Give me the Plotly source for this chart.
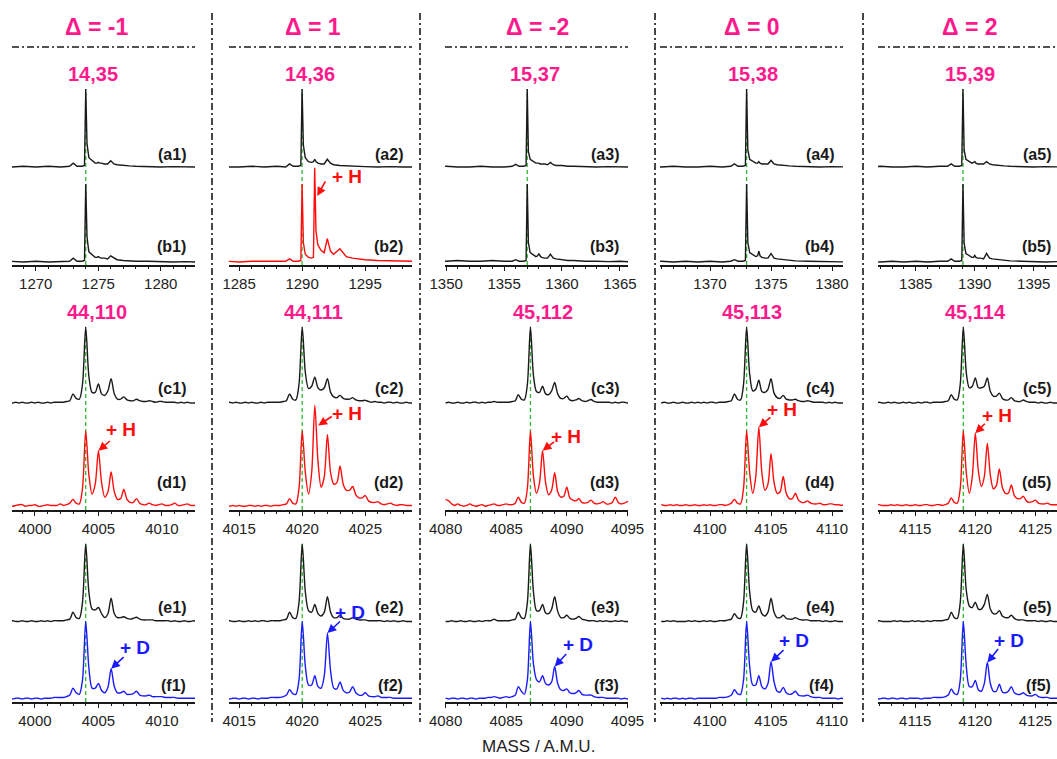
import plotly.graph_objects as go

W, H = 1057, 759
FONT = "Liberation Sans, Arial, sans-serif"

# ---------------- text ----------------
HEADERS = ["Δ = -1", "Δ = 1", "Δ = -2", "Δ = 0", "Δ = 2"]
TITLES_LOW = ["14,35", "14,36", "15,37", "15,38", "15,39"]
TITLES_HIGH = ["44,110", "44,111", "45,112", "45,113", "45,114"]
XLABEL = "MASS / A.M.U."

# ---------------- data ----------------
LOW_PEAK = [1274, 1290, 1357, 1373, 1389]
HIGH_PEAK = [4004, 4020, 4087, 4103, 4119]

# sampling positions of the low-mass spectra (row a/b)
X_LOW_1 = [1266, 1267, 1268, 1269, 1270, 1271, 1272, 1272.7, 1273, 1273.3, 1273.7, 1273.9,
           1274, 1274.1, 1274.25, 1274.5, 1274.75, 1274.9, 1275, 1275.1, 1275.25, 1275.5, 1275.75,
           1276, 1276.25, 1276.5, 1277, 1277.5, 1278, 1279, 1280, 1281, 1282, 1283]
X_LOW_2 = [1282, 1283, 1284, 1285, 1286, 1287, 1288, 1288.7, 1289, 1289.3, 1289.7, 1289.9,
           1290, 1290.1, 1290.25, 1290.5, 1290.75, 1290.9, 1291, 1291.1, 1291.25, 1291.5, 1291.75,
           1292, 1292.25, 1292.5, 1293, 1293.5, 1294, 1295, 1296, 1297, 1298, 1299]
X_LOW_3 = [1349, 1350, 1351, 1352, 1353, 1354, 1355, 1355.7, 1356, 1356.3, 1356.7, 1356.9,
           1357, 1357.1, 1357.25, 1357.5, 1357.75, 1357.9, 1358, 1358.1, 1358.25, 1358.5, 1358.75,
           1359, 1359.25, 1359.5, 1360, 1360.5, 1361, 1362, 1363, 1364, 1365, 1366]
X_LOW_4 = [1365, 1366, 1367, 1368, 1369, 1370, 1371, 1371.7, 1372, 1372.3, 1372.7, 1372.9,
           1373, 1373.1, 1373.25, 1373.5, 1373.75, 1373.9, 1374, 1374.1, 1374.25, 1374.5, 1374.75,
           1375, 1375.25, 1375.5, 1376, 1376.5, 1377, 1378, 1379, 1380, 1381, 1382]
X_LOW_5 = [1381, 1382, 1383, 1384, 1385, 1386, 1387, 1387.7, 1388, 1388.3, 1388.7, 1388.9,
           1389, 1389.1, 1389.25, 1389.5, 1389.75, 1389.9, 1390, 1390.1, 1390.25, 1390.5, 1390.75,
           1391, 1391.25, 1391.5, 1392, 1392.5, 1393, 1394, 1395, 1396, 1397, 1398]

A1 = [0.00, 0.01, 0.00, 0.01, 0.00, 0.01, 0.00, 0.01, 0.05, 0.01, 0.01, 0.02,
      1.00, 0.30, 0.12, 0.08, 0.05, 0.05, 0.06, 0.05, 0.05, 0.04, 0.04,
      0.08, 0.04, 0.03, 0.02, 0.015, 0.01, 0.005, 0.00, 0.005, 0.00, 0.00]
B1 = [0.00, 0.00, 0.01, 0.00, 0.01, 0.00, 0.01, 0.01, 0.05, 0.01, 0.01, 0.02,
      1.00, 0.32, 0.13, 0.09, 0.06, 0.06, 0.07, 0.06, 0.05, 0.05, 0.04,
      0.08, 0.05, 0.03, 0.02, 0.015, 0.01, 0.01, 0.005, 0.00, 0.005, 0.00]
A2 = [0.00, 0.01, 0.00, 0.00, 0.01, 0.00, 0.01, 0.00, 0.04, 0.01, 0.01, 0.02,
      1.00, 0.28, 0.12, 0.07, 0.06, 0.07, 0.10, 0.07, 0.05, 0.04, 0.04,
      0.10, 0.05, 0.03, 0.02, 0.015, 0.01, 0.005, 0.00, 0.005, 0.00, 0.00]
B2 = [0.01, 0.00, 0.01, 0.00, 0.01, 0.01, 0.01, 0.01, 0.04, 0.01, 0.01, 0.02,
      1.00, 0.25, 0.10, 0.06, 0.05, 0.06, 1.21, 0.40, 0.22, 0.15, 0.12,
      0.30, 0.14, 0.10, 0.17, 0.07, 0.05, 0.03, 0.02, 0.015, 0.01, 0.01]
A3 = [0.00, 0.01, 0.00, 0.00, 0.01, 0.00, 0.00, 0.01, 0.035, 0.01, 0.01, 0.02,
      1.00, 0.20, 0.10, 0.07, 0.05, 0.05, 0.05, 0.04, 0.04, 0.04, 0.03,
      0.06, 0.03, 0.02, 0.02, 0.01, 0.01, 0.005, 0.00, 0.005, 0.00, 0.00]
B3 = [0.02, 0.01, 0.02, 0.01, 0.01, 0.02, 0.01, 0.01, 0.03, 0.01, 0.01, 0.02,
      1.00, 0.25, 0.12, 0.09, 0.07, 0.08, 0.11, 0.08, 0.06, 0.05, 0.05,
      0.10, 0.05, 0.04, 0.03, 0.02, 0.02, 0.01, 0.01, 0.005, 0.01, 0.00]
A4 = [0.00, 0.00, 0.01, 0.00, 0.00, 0.01, 0.00, 0.01, 0.04, 0.01, 0.01, 0.02,
      1.00, 0.22, 0.10, 0.07, 0.05, 0.05, 0.07, 0.05, 0.04, 0.04, 0.04,
      0.085, 0.04, 0.03, 0.02, 0.015, 0.01, 0.005, 0.00, 0.005, 0.00, 0.00]
B4 = [0.00, 0.01, 0.00, 0.01, 0.00, 0.01, 0.00, 0.01, 0.03, 0.01, 0.01, 0.02,
      1.00, 0.25, 0.12, 0.09, 0.07, 0.08, 0.14, 0.08, 0.06, 0.05, 0.05,
      0.11, 0.05, 0.04, 0.03, 0.02, 0.015, 0.01, 0.005, 0.00, 0.005, 0.00]
A5 = [0.00, 0.01, 0.00, 0.00, 0.01, 0.00, 0.01, 0.01, 0.04, 0.01, 0.01, 0.02,
      1.00, 0.22, 0.10, 0.07, 0.05, 0.06, 0.07, 0.05, 0.04, 0.04, 0.04,
      0.07, 0.04, 0.03, 0.02, 0.015, 0.01, 0.005, 0.00, 0.005, 0.00, 0.00]
B5 = [0.01, 0.00, 0.01, 0.00, 0.01, 0.00, 0.01, 0.01, 0.04, 0.01, 0.01, 0.02,
      1.00, 0.24, 0.11, 0.08, 0.06, 0.06, 0.085, 0.06, 0.05, 0.05, 0.04,
      0.11, 0.05, 0.04, 0.03, 0.02, 0.015, 0.01, 0.005, 0.00, 0.005, 0.00]

# high-mass spectra: first mass and step of the sampling (every 0.25 u)
HIGH_X0 = [3998, 4014, 4080, 4096, 4111]
HIGH_DX = 0.25

C1 = [0.01, 0.00, 0.01, 0.00,  0.01, 0.00, 0.00, 0.01,  0.00, 0.01, 0.00, 0.00,
      0.01, 0.00, 0.01, 0.01,  0.01, 0.01, 0.02, 0.03,  0.12, 0.06, 0.05, 0.25,
      1.00, 0.35, 0.14, 0.14,  0.25, 0.12, 0.10, 0.16,  0.32, 0.12, 0.05, 0.05,
      0.08, 0.04, 0.03, 0.03,  0.05, 0.03, 0.02, 0.02,  0.03, 0.02, 0.01, 0.02,
      0.02, 0.01, 0.01, 0.01,  0.01, 0.00, 0.01, 0.00,  0.01, 0.00, 0.00, 0.01, 0.00]
D1 = [0.02, 0.01, 0.02, 0.03,  0.03, 0.01, 0.02, 0.02,  0.03, 0.01, 0.01, 0.02,
      0.03, 0.02, 0.02, 0.02,  0.04, 0.02, 0.03, 0.05,  0.10, 0.05, 0.04, 0.25,
      1.00, 0.42, 0.17, 0.30,  0.74, 0.32, 0.13, 0.20,  0.46, 0.20, 0.10, 0.11,
      0.23, 0.10, 0.06, 0.06,  0.11, 0.05, 0.03, 0.03,  0.05, 0.03, 0.02, 0.03,
      0.04, 0.02, 0.02, 0.03,  0.05, 0.02, 0.02, 0.03,  0.04, 0.02, 0.02, 0.02, 0.02]
E1 = [0.00, 0.01, 0.00, 0.00,  0.01, 0.00, 0.00, 0.01,  0.00, 0.00, 0.01, 0.00,
      0.01, 0.00, 0.01, 0.01,  0.01, 0.01, 0.02, 0.03,  0.12, 0.05, 0.04, 0.25,
      1.00, 0.38, 0.16, 0.15,  0.18, 0.10, 0.05, 0.10,  0.30, 0.10, 0.05, 0.05,
      0.06, 0.04, 0.03, 0.04,  0.055, 0.03, 0.02, 0.02, 0.02, 0.02, 0.01, 0.01,
      0.01, 0.01, 0.01, 0.00,  0.01, 0.00, 0.00, 0.01,  0.00, 0.00, 0.01, 0.00, 0.00]
F1 = [0.01, 0.00, 0.01, 0.01,  0.00, 0.01, 0.01, 0.00,  0.01, 0.01, 0.00, 0.01,
      0.01, 0.01, 0.02, 0.02,  0.02, 0.02, 0.03, 0.05,  0.14, 0.08, 0.06, 0.25,
      1.00, 0.40, 0.14, 0.14,  0.20, 0.11, 0.08, 0.15,  0.39, 0.16, 0.08, 0.08,
      0.10, 0.06, 0.06, 0.07,  0.10, 0.05, 0.04, 0.04,  0.05, 0.03, 0.03, 0.03,
      0.03, 0.02, 0.02, 0.02,  0.02, 0.01, 0.01, 0.01,  0.01, 0.01, 0.01, 0.01, 0.01]

C2 = [0.00, 0.01, 0.00, 0.01,  0.00, 0.00, 0.01, 0.00,  0.01, 0.00, 0.00, 0.01,
      0.00, 0.01, 0.01, 0.01,  0.01, 0.01, 0.02, 0.03,  0.12, 0.05, 0.04, 0.25,
      1.00, 0.40, 0.19, 0.22,  0.34, 0.20, 0.17, 0.20,  0.32, 0.14, 0.08, 0.07,
      0.10, 0.06, 0.05, 0.05,  0.07, 0.04, 0.03, 0.03,  0.035, 0.02, 0.01, 0.02,
      0.01, 0.01, 0.00, 0.01,  0.01, 0.00, 0.01, 0.00,  0.00, 0.01, 0.00, 0.00, 0.00]
D2 = [0.02, 0.01, 0.02, 0.01,  0.02, 0.01, 0.01, 0.02,  0.02, 0.01, 0.02, 0.01,
      0.02, 0.02, 0.01, 0.02,  0.02, 0.02, 0.03, 0.04,  0.11, 0.05, 0.04, 0.25,
      1.00, 0.45, 0.17, 0.45,  1.34, 0.60, 0.26, 0.40,  0.95, 0.45, 0.30, 0.32,
      0.54, 0.30, 0.22, 0.22,  0.27, 0.16, 0.12, 0.12,  0.15, 0.08, 0.06, 0.06,
      0.07, 0.04, 0.03, 0.04,  0.05, 0.03, 0.02, 0.03,  0.03, 0.02, 0.02, 0.02, 0.02]
E2 = [0.00, 0.01, 0.00, 0.00,  0.01, 0.00, 0.00, 0.01,  0.00, 0.01, 0.00, 0.01,
      0.01, 0.00, 0.01, 0.01,  0.01, 0.01, 0.02, 0.03,  0.12, 0.05, 0.04, 0.25,
      1.00, 0.38, 0.14, 0.12,  0.22, 0.10, 0.07, 0.12,  0.32, 0.12, 0.05, 0.05,
      0.08, 0.04, 0.03, 0.03,  0.05, 0.03, 0.02, 0.02,  0.02, 0.01, 0.01, 0.01,
      0.01, 0.01, 0.00, 0.01,  0.00, 0.01, 0.00, 0.00,  0.01, 0.00, 0.00, 0.00, 0.00]
F2 = [0.01, 0.00, 0.01, 0.01,  0.00, 0.01, 0.01, 0.00,  0.01, 0.01, 0.00, 0.01,
      0.01, 0.01, 0.02, 0.02,  0.02, 0.02, 0.03, 0.05,  0.12, 0.07, 0.06, 0.25,
      1.00, 0.42, 0.18, 0.18,  0.30, 0.16, 0.14, 0.30,  0.85, 0.36, 0.14, 0.13,
      0.22, 0.11, 0.08, 0.09,  0.16, 0.08, 0.05, 0.05,  0.08, 0.04, 0.03, 0.03,
      0.04, 0.02, 0.02, 0.02,  0.02, 0.01, 0.01, 0.01,  0.01, 0.01, 0.01, 0.01, 0.01]

C3 = [0.00, 0.01, 0.00, 0.00,  0.01, 0.00, 0.00, 0.01,  0.00, 0.01, 0.01, 0.00,
      0.01, 0.00, 0.01, 0.01,  0.02, 0.01, 0.01, 0.01,  0.01, 0.01, 0.02, 0.03,
      0.11, 0.05, 0.04, 0.25,  1.00, 0.36, 0.15, 0.14,  0.22, 0.12, 0.11, 0.16,
      0.27, 0.12, 0.06, 0.06,  0.09, 0.04, 0.03, 0.04,  0.06, 0.03, 0.02, 0.03,
      0.045, 0.02, 0.01, 0.01, 0.01, 0.01, 0.01, 0.00, 0.01, 0.00, 0.01, 0.01,
      0.00, 0.01, 0.00, 0.00,  0.00]
D3 = [0.10, 0.08, 0.04, 0.02,  0.04, 0.02, 0.01, 0.02,  0.04, 0.02, 0.01, 0.02,
      0.03, 0.01, 0.02, 0.03,  0.04, 0.02, 0.02, 0.03,  0.04, 0.03, 0.03, 0.05,
      0.13, 0.06, 0.05, 0.25,  1.00, 0.40, 0.18, 0.32,  0.74, 0.32, 0.16, 0.22,
      0.45, 0.20, 0.13, 0.14,  0.26, 0.12, 0.09, 0.08,  0.11, 0.06, 0.05, 0.06,
      0.09, 0.05, 0.04, 0.05,  0.07, 0.04, 0.04, 0.06,  0.13, 0.06, 0.04, 0.05,
      0.07, 0.05, 0.04, 0.04,  0.04]
E3 = [0.00, 0.00, 0.01, 0.00,  0.00, 0.01, 0.00, 0.00,  0.01, 0.00, 0.00, 0.01,
      0.00, 0.01, 0.01, 0.01,  0.03, 0.01, 0.01, 0.01,  0.01, 0.01, 0.02, 0.03,
      0.12, 0.05, 0.04, 0.25,  1.00, 0.38, 0.14, 0.14,  0.22, 0.11, 0.10, 0.16,
      0.32, 0.13, 0.05, 0.05,  0.08, 0.04, 0.03, 0.04,  0.065, 0.03, 0.02, 0.01,
      0.01, 0.01, 0.00, 0.01,  0.00, 0.01, 0.00, 0.00,  0.01, 0.00, 0.01, 0.00,
      0.00, 0.00, 0.00, 0.00,  0.00]
F3 = [0.01, 0.00, 0.01, 0.01,  0.00, 0.01, 0.01, 0.00,  0.01, 0.01, 0.00, 0.01,
      0.01, 0.01, 0.02, 0.02,  0.03, 0.02, 0.01, 0.02,  0.03, 0.02, 0.03, 0.05,
      0.16, 0.10, 0.06, 0.25,  1.00, 0.45, 0.25, 0.22,  0.30, 0.20, 0.18, 0.22,
      0.42, 0.20, 0.12, 0.11,  0.13, 0.08, 0.07, 0.08,  0.11, 0.06, 0.05, 0.05,
      0.05, 0.03, 0.02, 0.02,  0.02, 0.01, 0.01, 0.01,  0.01, 0.01, 0.00, 0.01,
      0.00, 0.01, 0.00, 0.00,  0.00]

C4 = [0.00, 0.01, 0.00, 0.00,  0.01, 0.00, 0.00, 0.01,  0.00, 0.00, 0.01, 0.00,
      0.01, 0.00, 0.01, 0.00,  0.01, 0.01, 0.00, 0.01,  0.01, 0.01, 0.02, 0.03,
      0.12, 0.05, 0.04, 0.25,  1.00, 0.38, 0.16, 0.18,  0.30, 0.15, 0.14, 0.18,
      0.32, 0.13, 0.07, 0.06,  0.10, 0.05, 0.04, 0.04,  0.05, 0.03, 0.02, 0.02,
      0.03, 0.02, 0.01, 0.01,  0.01, 0.01, 0.00, 0.01,  0.00, 0.01, 0.00, 0.00, 0.00]
D4 = [0.03, 0.02, 0.02, 0.03,  0.02, 0.03, 0.02, 0.02,  0.03, 0.02, 0.02, 0.03,
      0.02, 0.02, 0.03, 0.02,  0.03, 0.02, 0.02, 0.03,  0.03, 0.02, 0.03, 0.05,
      0.10, 0.05, 0.04, 0.25,  1.00, 0.45, 0.18, 0.40,  1.05, 0.45, 0.22, 0.30,
      0.70, 0.32, 0.18, 0.20,  0.40, 0.18, 0.11, 0.11,  0.18, 0.09, 0.06, 0.06,
      0.08, 0.05, 0.04, 0.04,  0.05, 0.03, 0.03, 0.04,  0.04, 0.03, 0.03, 0.02, 0.03]
E4 = [0.00, 0.00, 0.01, 0.00,  0.01, 0.00, 0.00, 0.00,  0.00, 0.01, 0.00, 0.01,
      0.00, 0.00, 0.01, 0.00,  0.01, 0.00, 0.00, 0.01,  0.01, 0.01, 0.02, 0.03,
      0.10, 0.05, 0.04, 0.25,  1.00, 0.38, 0.14, 0.12,  0.20, 0.10, 0.07, 0.12,
      0.30, 0.12, 0.05, 0.05,  0.08, 0.04, 0.03, 0.03,  0.05, 0.03, 0.02, 0.02,
      0.02, 0.01, 0.01, 0.01,  0.01, 0.00, 0.01, 0.00,  0.00, 0.01, 0.00, 0.00, 0.00]
F4 = [0.01, 0.00, 0.01, 0.00,  0.01, 0.01, 0.00, 0.01,  0.00, 0.01, 0.01, 0.00,
      0.01, 0.01, 0.01, 0.01,  0.01, 0.01, 0.01, 0.02,  0.02, 0.02, 0.03, 0.05,
      0.12, 0.07, 0.06, 0.25,  1.00, 0.42, 0.18, 0.18,  0.30, 0.16, 0.13, 0.20,
      0.48, 0.22, 0.10, 0.09,  0.15, 0.08, 0.06, 0.07,  0.10, 0.05, 0.04, 0.04,
      0.05, 0.03, 0.02, 0.02,  0.02, 0.01, 0.01, 0.01,  0.01, 0.01, 0.00, 0.01, 0.00]

C5 = [0.00, 0.01, 0.00, 0.00,  0.01, 0.00, 0.00, 0.01,  0.00, 0.01, 0.00, 0.00,
      0.01, 0.00, 0.01, 0.00,  0.00, 0.01, 0.00, 0.01,  0.01, 0.00, 0.01, 0.01,
      0.01, 0.01, 0.02, 0.03,  0.11, 0.05, 0.04, 0.25,  1.00, 0.40, 0.20, 0.22,
      0.33, 0.20, 0.20, 0.22,  0.33, 0.15, 0.09, 0.09,  0.13, 0.06, 0.04, 0.04,
      0.07, 0.03, 0.02, 0.02,  0.04, 0.02, 0.01, 0.01,  0.01, 0.00, 0.01, 0.00,
      0.00, 0.01, 0.00, 0.00,  0.00]
D5 = [0.03, 0.02, 0.02, 0.03,  0.03, 0.02, 0.02, 0.02,  0.03, 0.02, 0.03, 0.02,
      0.02, 0.03, 0.02, 0.02,  0.03, 0.02, 0.02, 0.03,  0.03, 0.02, 0.02, 0.03,
      0.03, 0.02, 0.03, 0.05,  0.12, 0.06, 0.05, 0.25,  1.00, 0.45, 0.18, 0.40,
      0.97, 0.48, 0.27, 0.40,  0.84, 0.42, 0.24, 0.28,  0.50, 0.26, 0.18, 0.18,
      0.29, 0.15, 0.11, 0.11,  0.14, 0.08, 0.06, 0.07,  0.09, 0.05, 0.04, 0.04,
      0.05, 0.03, 0.03, 0.03,  0.03]
E5 = [0.00, 0.00, 0.01, 0.00,  0.01, 0.00, 0.00, 0.00,  0.00, 0.01, 0.00, 0.01,
      0.00, 0.00, 0.00, 0.01,  0.00, 0.01, 0.00, 0.00,  0.01, 0.00, 0.01, 0.01,
      0.01, 0.01, 0.02, 0.03,  0.12, 0.05, 0.04, 0.25,  1.00, 0.40, 0.20, 0.18,
      0.25, 0.16, 0.16, 0.22,  0.35, 0.16, 0.10, 0.10,  0.14, 0.07, 0.05, 0.05,
      0.08, 0.04, 0.02, 0.02,  0.02, 0.01, 0.01, 0.01,  0.01, 0.00, 0.01, 0.00,
      0.00, 0.01, 0.00, 0.00,  0.00]
F5 = [0.01, 0.00, 0.01, 0.01,  0.00, 0.01, 0.01, 0.00,  0.01, 0.01, 0.00, 0.01,
      0.01, 0.00, 0.01, 0.01,  0.01, 0.01, 0.00, 0.01,  0.01, 0.01, 0.02, 0.02,
      0.02, 0.02, 0.03, 0.05,  0.13, 0.07, 0.06, 0.25,  1.00, 0.42, 0.16, 0.16,
      0.24, 0.12, 0.10, 0.20,  0.47, 0.20, 0.10, 0.10,  0.19, 0.09, 0.08, 0.10,
      0.16, 0.08, 0.06, 0.06,  0.08, 0.05, 0.04, 0.04,  0.06, 0.03, 0.02, 0.02,
      0.02, 0.01, 0.01, 0.01,  0.01]

LOW_X = [X_LOW_1, X_LOW_2, X_LOW_3, X_LOW_4, X_LOW_5]
SPEC_A = [A1, A2, A3, A4, A5]
SPEC_B = [B1, B2, B3, B4, B5]
SPEC_C = [C1, C2, C3, C4, C5]
SPEC_D = [D1, D2, D3, D4, D5]
SPEC_E = [E1, E2, E3, E4, E5]
SPEC_F = [F1, F2, F3, F4, F5]

# ---------------- layout geometry (screen pixels) ----------------
COL_PX = [(12, 195), (229, 412), (445, 628), (660, 843), (878, 1057)]
XR_LOW = [(1268.1, 1282.74), (1284.2, 1298.72), (1349.9, 1365.7), (1365.9, 1380.9), (1381.8, 1396.97)]
XR_HIGH = [(3998.2, 4012.6), (4014.2, 4028.7), (4079.95, 4095.05), (4095.9, 4110.9), (4111.9, 4126.8)]
ROWS = [
    dict(bottom=265, top=85, yr=(-0.038, 2.27), off=1.218, lab=("a", "b"), laby=(154, 247)),
    dict(bottom=510, top=320, yr=(-0.04, 2.46), off=1.368, lab=("c", "d"), laby=(388, 482)),
    dict(bottom=702, top=540, yr=(-0.039, 2.051), off=1.0, lab=("e", "f"), laby=(607, 685)),
]
HEAD_X = [96, 313, 537, 752, 970]
TITLE_LOW_X = [93, 310, 535, 753, 970]
TITLE_HIGH_X = [97, 313, 543, 752, 975]
SEP_X = [212, 420, 655, 863]

BLACK = "#1a1a1a"
RED = "#ff0d0d"
BLUE = "#1a1aff"
PINK = "#ff1a8c"
GREEN = "#2eb82e"


def px(x):
    return min(max(x / W, 0.0), 1.0)


def py(y):
    return min(max(1 - y / H, 0.0), 1.0)


def paper_text(text, x, y, size, color, xanchor="center"):
    return dict(text=text, x=px(x), y=py(y), xref="paper", yref="paper",
                xanchor=xanchor, yanchor="middle", showarrow=False,
                font=dict(family=FONT, size=size, color=color))


fig = go.Figure()
layout = {}
annotations = []
shapes = []

for r, row in enumerate(ROWS):
    for c in range(5):
        k = r * 5 + c + 1
        xa = "x" if k == 1 else f"x{k}"
        ya = "y" if k == 1 else f"y{k}"
        xkey = "xaxis" if k == 1 else f"xaxis{k}"
        ykey = "yaxis" if k == 1 else f"yaxis{k}"
        x0p, x1p = COL_PX[c]
        layout[xkey] = dict(
            domain=[px(x0p), px(x1p)], anchor=ya,
            range=list(XR_LOW[c] if r == 0 else XR_HIGH[c]),
            showline=True, linecolor=BLACK, linewidth=1.6,
            ticks="outside", ticklen=4, tickwidth=1.2, tickcolor=BLACK,
            tick0=0, dtick=5, automargin=False,
            minor=dict(dtick=1, ticks="outside", ticklen=2, tickcolor=BLACK, tickwidth=1),
            tickfont=dict(family=FONT, size=15, color="#222"),
            showgrid=False, zeroline=False, fixedrange=True,
        )
        layout[ykey] = dict(domain=[py(row["bottom"]), py(row["top"])], anchor=xa,
                            range=list(row["yr"]), visible=False, fixedrange=True,
                            automargin=False)

        off = row["off"]
        if r == 0:
            top_y, bot_y = SPEC_A[c], SPEC_B[c]
            bot_col = RED if c == 1 else BLACK
            peak = LOW_PEAK[c]
            common = dict(x=LOW_X[c])
            shape = "linear"
        else:
            top_y = SPEC_C[c] if r == 1 else SPEC_E[c]
            bot_y = SPEC_D[c] if r == 1 else SPEC_F[c]
            bot_col = RED if r == 1 else BLUE
            peak = HIGH_PEAK[c]
            common = dict(x0=HIGH_X0[c], dx=HIGH_DX)
            shape = "spline"

        # green dashed reference line through the main peak
        fig.add_trace(go.Scatter(x=[peak, peak], y=[row["yr"][0], off + 1.0], mode="lines",
                                 line=dict(color=GREEN, width=1.3, dash="4px,3px"),
                                 xaxis=xa, yaxis=ya, hoverinfo="skip", showlegend=False))
        fig.add_trace(go.Scatter(y=[v + off for v in top_y], mode="lines",
                                 line=dict(color=BLACK, width=1.4, shape=shape, smoothing=0.8),
                                 xaxis=xa, yaxis=ya, showlegend=False, **common))
        fig.add_trace(go.Scatter(y=bot_y, mode="lines",
                                 line=dict(color=bot_col, width=1.4, shape=shape, smoothing=0.8),
                                 xaxis=xa, yaxis=ya, showlegend=False, **common))

        # panel labels
        rx = x1p - 7 if c < 4 else 1053
        for lab, ly in zip(row["lab"], row["laby"]):
            annotations.append(paper_text(f"<b>({lab}{c + 1})</b>", rx, ly, 16, BLACK, "right"))

# column headers, titles
for c in range(5):
    annotations.append(paper_text(f"<b>{HEADERS[c]}</b>", HEAD_X[c], 27, 23, PINK))
    annotations.append(paper_text(f"<b>{TITLES_LOW[c]}</b>", TITLE_LOW_X[c], 74, 20, PINK))
    annotations.append(paper_text(f"<b>{TITLES_HIGH[c]}</b>", TITLE_HIGH_X[c], 312, 20, PINK))
    x0p, x1p = COL_PX[c]
    shapes.append(dict(type="line", xref="paper", yref="paper", x0=px(x0p), x1=px(x1p),
                       y0=py(47), y1=py(47),
                       line=dict(color=BLACK, width=1.6, dash="7px,3px,2px,3px")))

for sx in SEP_X:
    shapes.append(dict(type="line", xref="paper", yref="paper", x0=px(sx), x1=px(sx),
                       y0=py(13), y1=py(722),
                       line=dict(color=BLACK, width=1.6, dash="7px,3px,2px,3px")))

annotations.append(paper_text(XLABEL, 538, 746, 17, "#222"))

# "+ H" / "+ D" arrows: (row, col, isotope shift, height fraction, x nudge (u),
#                        text dx, text dy, tail dx, tail dy, text)
ISO_ARROWS = [
    (0, 1, 1, 0.70, 0.20, 30, -19, 9, -16, "+ H"),
    (1, 0, 1, 1.00, 0.00, 23, -21, 13, -11, "+ H"),
    (1, 1, 1, 0.80, 0.27, 29, -12, 15, -10, "+ H"),
    (1, 2, 1, 1.00, 0.00, 23, -14, 13, -10, "+ H"),
    (1, 3, 1, 1.00, 0.00, 23, -18, 13, -11, "+ H"),
    (1, 4, 1, 1.00, 0.00, 22, -18, 11, -11, "+ H"),
    (2, 0, 2, 1.00, 0.00, 24, -21, 14, -13, "+ D"),
    (2, 1, 2, 1.00, 0.00, 23, -21, 14, -13, "+ D"),
    (2, 2, 2, 1.00, 0.00, 23, -22, 13, -14, "+ D"),
    (2, 3, 2, 1.00, 0.00, 23, -21, 14, -13, "+ D"),
    (2, 4, 2, 1.00, 0.00, 22, -22, 12, -15, "+ D"),
]
for (r, c, iso, frac, nud, tdx, tdy, adx, ady, txt) in ISO_ARROWS:
    k = r * 5 + c + 1
    xa = "x" if k == 1 else f"x{k}"
    ya = "y" if k == 1 else f"y{k}"
    if r == 0:
        xi = LOW_PEAK[c] + iso
        val = SPEC_B[c][LOW_X[c].index(xi)]
    else:
        xi = HIGH_PEAK[c] + iso
        arr = SPEC_D[c] if r == 1 else SPEC_F[c]
        val = arr[int(round((xi - HIGH_X0[c]) / HIGH_DX))]
    col = BLUE if txt == "+ D" else RED
    hx, hy = xi + nud, val * frac
    annotations.append(dict(text="", x=hx, y=hy, xref=xa, yref=ya, showarrow=True,
                            ax=adx, ay=ady, arrowhead=2, arrowsize=1.1, arrowwidth=1.6,
                            arrowcolor=col, standoff=0))
    annotations.append(dict(text=f"<b>{txt}</b>", x=hx, y=hy, xref=xa, yref=ya, showarrow=False,
                            xanchor="center", yanchor="middle", xshift=tdx, yshift=-tdy,
                            font=dict(family=FONT, size=19, color=col)))

fig.update_layout(
    template="none",
    width=W, height=H, margin=dict(l=0, r=0, t=0, b=0, pad=0, autoexpand=False),
    paper_bgcolor="white", plot_bgcolor="white",
    showlegend=False, annotations=annotations, shapes=shapes,
    **layout,
)

# the figure fills the whole window: drop the page's default body margin and scrollbars
fig.write_html(
    "out.html",
    config={"displayModeBar": False},
    post_script="document.body.style.margin='0';document.body.style.overflow='hidden';",
)
